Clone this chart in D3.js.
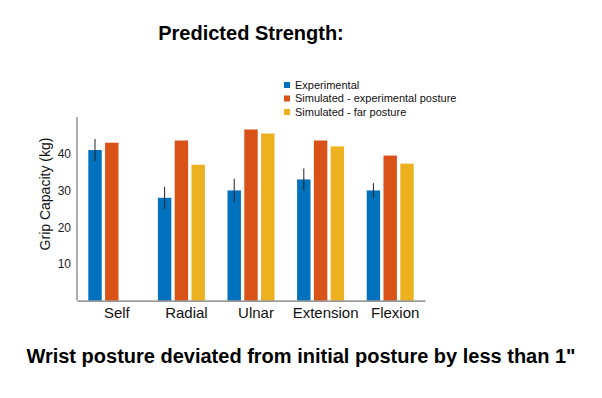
<!DOCTYPE html>
<html>
<head>
<meta charset="utf-8">
<script src="https://cdn.jsdelivr.net/npm/d3@7"></script>
<style>
  body { margin: 0; background: #fff; }
  text { font-family: "Liberation Sans", Arial, sans-serif; }
</style>
</head>
<body>
<svg width="602" height="398"></svg>
<script>
var categories = ["Self", "Radial", "Ulnar", "Extension", "Flexion"];
var seriesNames = ["Experimental", "Simulated - experimental posture", "Simulated - far posture"];
var experimental = [41, 28, 30, 33, 30];
var expError = [3, 3, 3.2, 3, 2];
var simExperimental = [43, 43.6, 46.6, 43.6, 39.5];
var simFar = [null, 37, 45.5, 42, 37.3];
var yTicks = [10, 20, 30, 40];
var colors = ["#0072BD", "#D95319", "#EDB120"];

var svg = d3.select("svg"),
    plotLeft = 77, plotRight = 425, plotTop = 117, plotBottom = 300.6;

var x = d3.scaleBand().domain(categories).range([plotLeft, plotRight]).padding(0);
var y = d3.scaleLinear().domain([0, 50]).range([plotBottom, plotTop]);
var inner = d3.scaleBand().domain([0, 1, 2]).range([-23.5, 23.5]).paddingInner(0.2);

var series = [experimental, simExperimental, simFar];

// bars
series.forEach(function(vals, s) {
  svg.append("g").selectAll("rect")
    .data(vals.map(function(v, i) { return {c: categories[i], v: v}; }).filter(function(d) { return d.v != null; }))
    .enter().append("rect")
    .attr("x", function(d) { return x(d.c) + x.bandwidth() / 2 + inner(s); })
    .attr("y", function(d) { return y(d.v); })
    .attr("width", inner.bandwidth())
    .attr("height", function(d) { return y(0) - y(d.v); })
    .style("fill", colors[s]);
});

// error bars
svg.append("g").selectAll("line")
  .data(experimental.map(function(v, i) { return {c: categories[i], v: v, e: expError[i]}; }))
  .enter().append("line")
  .attr("x1", function(d) { return x(d.c) + x.bandwidth() / 2 + inner(0) + inner.bandwidth() / 2; })
  .attr("x2", function(d) { return x(d.c) + x.bandwidth() / 2 + inner(0) + inner.bandwidth() / 2; })
  .attr("y1", function(d) { return y(d.v + d.e); })
  .attr("y2", function(d) { return y(d.v - d.e); })
  .style("stroke", "#222")
  .style("stroke-width", 1);

// axes
var yAxis = svg.append("g")
  .attr("transform", "translate(" + plotLeft + ",0)")
  .call(d3.axisLeft(y).tickValues(yTicks).tickSize(0).tickPadding(6));
yAxis.select(".domain").remove();
yAxis.selectAll("text").style("font-size", "12px").style("fill", "#222");

svg.append("line")
  .attr("x1", plotLeft).attr("x2", plotLeft).attr("y1", plotTop).attr("y2", plotBottom)
  .style("stroke", "#777").style("stroke-width", 1.2);

var xAxis = svg.append("g")
  .attr("transform", "translate(0," + plotBottom + ")")
  .call(d3.axisBottom(x).tickSize(0).tickPadding(7));
xAxis.select(".domain").style("stroke", "#777").style("stroke-width", 1.2);
xAxis.selectAll("text").attr("dx", 5).style("font-size", "15px").style("fill", "#111");

svg.append("text")
  .attr("transform", "translate(50,194) rotate(-90)")
  .attr("text-anchor", "middle")
  .style("font-size", "14px")
  .style("fill", "#111")
  .text("Grip Capacity (kg)");

// legend
var legend = svg.append("g").attr("transform", "translate(284,82)");
seriesNames.forEach(function(name, i) {
  legend.append("rect")
    .attr("x", 0).attr("y", i * 13.5)
    .attr("width", 6).attr("height", 6)
    .style("fill", colors[i]);
  legend.append("text")
    .attr("x", 11).attr("y", i * 13.5 + 6.5)
    .style("font-size", "11px")
    .style("fill", "#111")
    .text(name);
});

// titles
svg.append("text")
  .attr("x", 251).attr("y", 40)
  .attr("text-anchor", "middle")
  .style("font-size", "20px").style("font-weight", "bold")
  .text("Predicted Strength:");

svg.append("text")
  .attr("x", 301).attr("y", 363)
  .attr("text-anchor", "middle")
  .style("font-size", "20px").style("font-weight", "bold")
  .text("Wrist posture deviated from initial posture by less than 1\"");
</script>
</body>
</html>
